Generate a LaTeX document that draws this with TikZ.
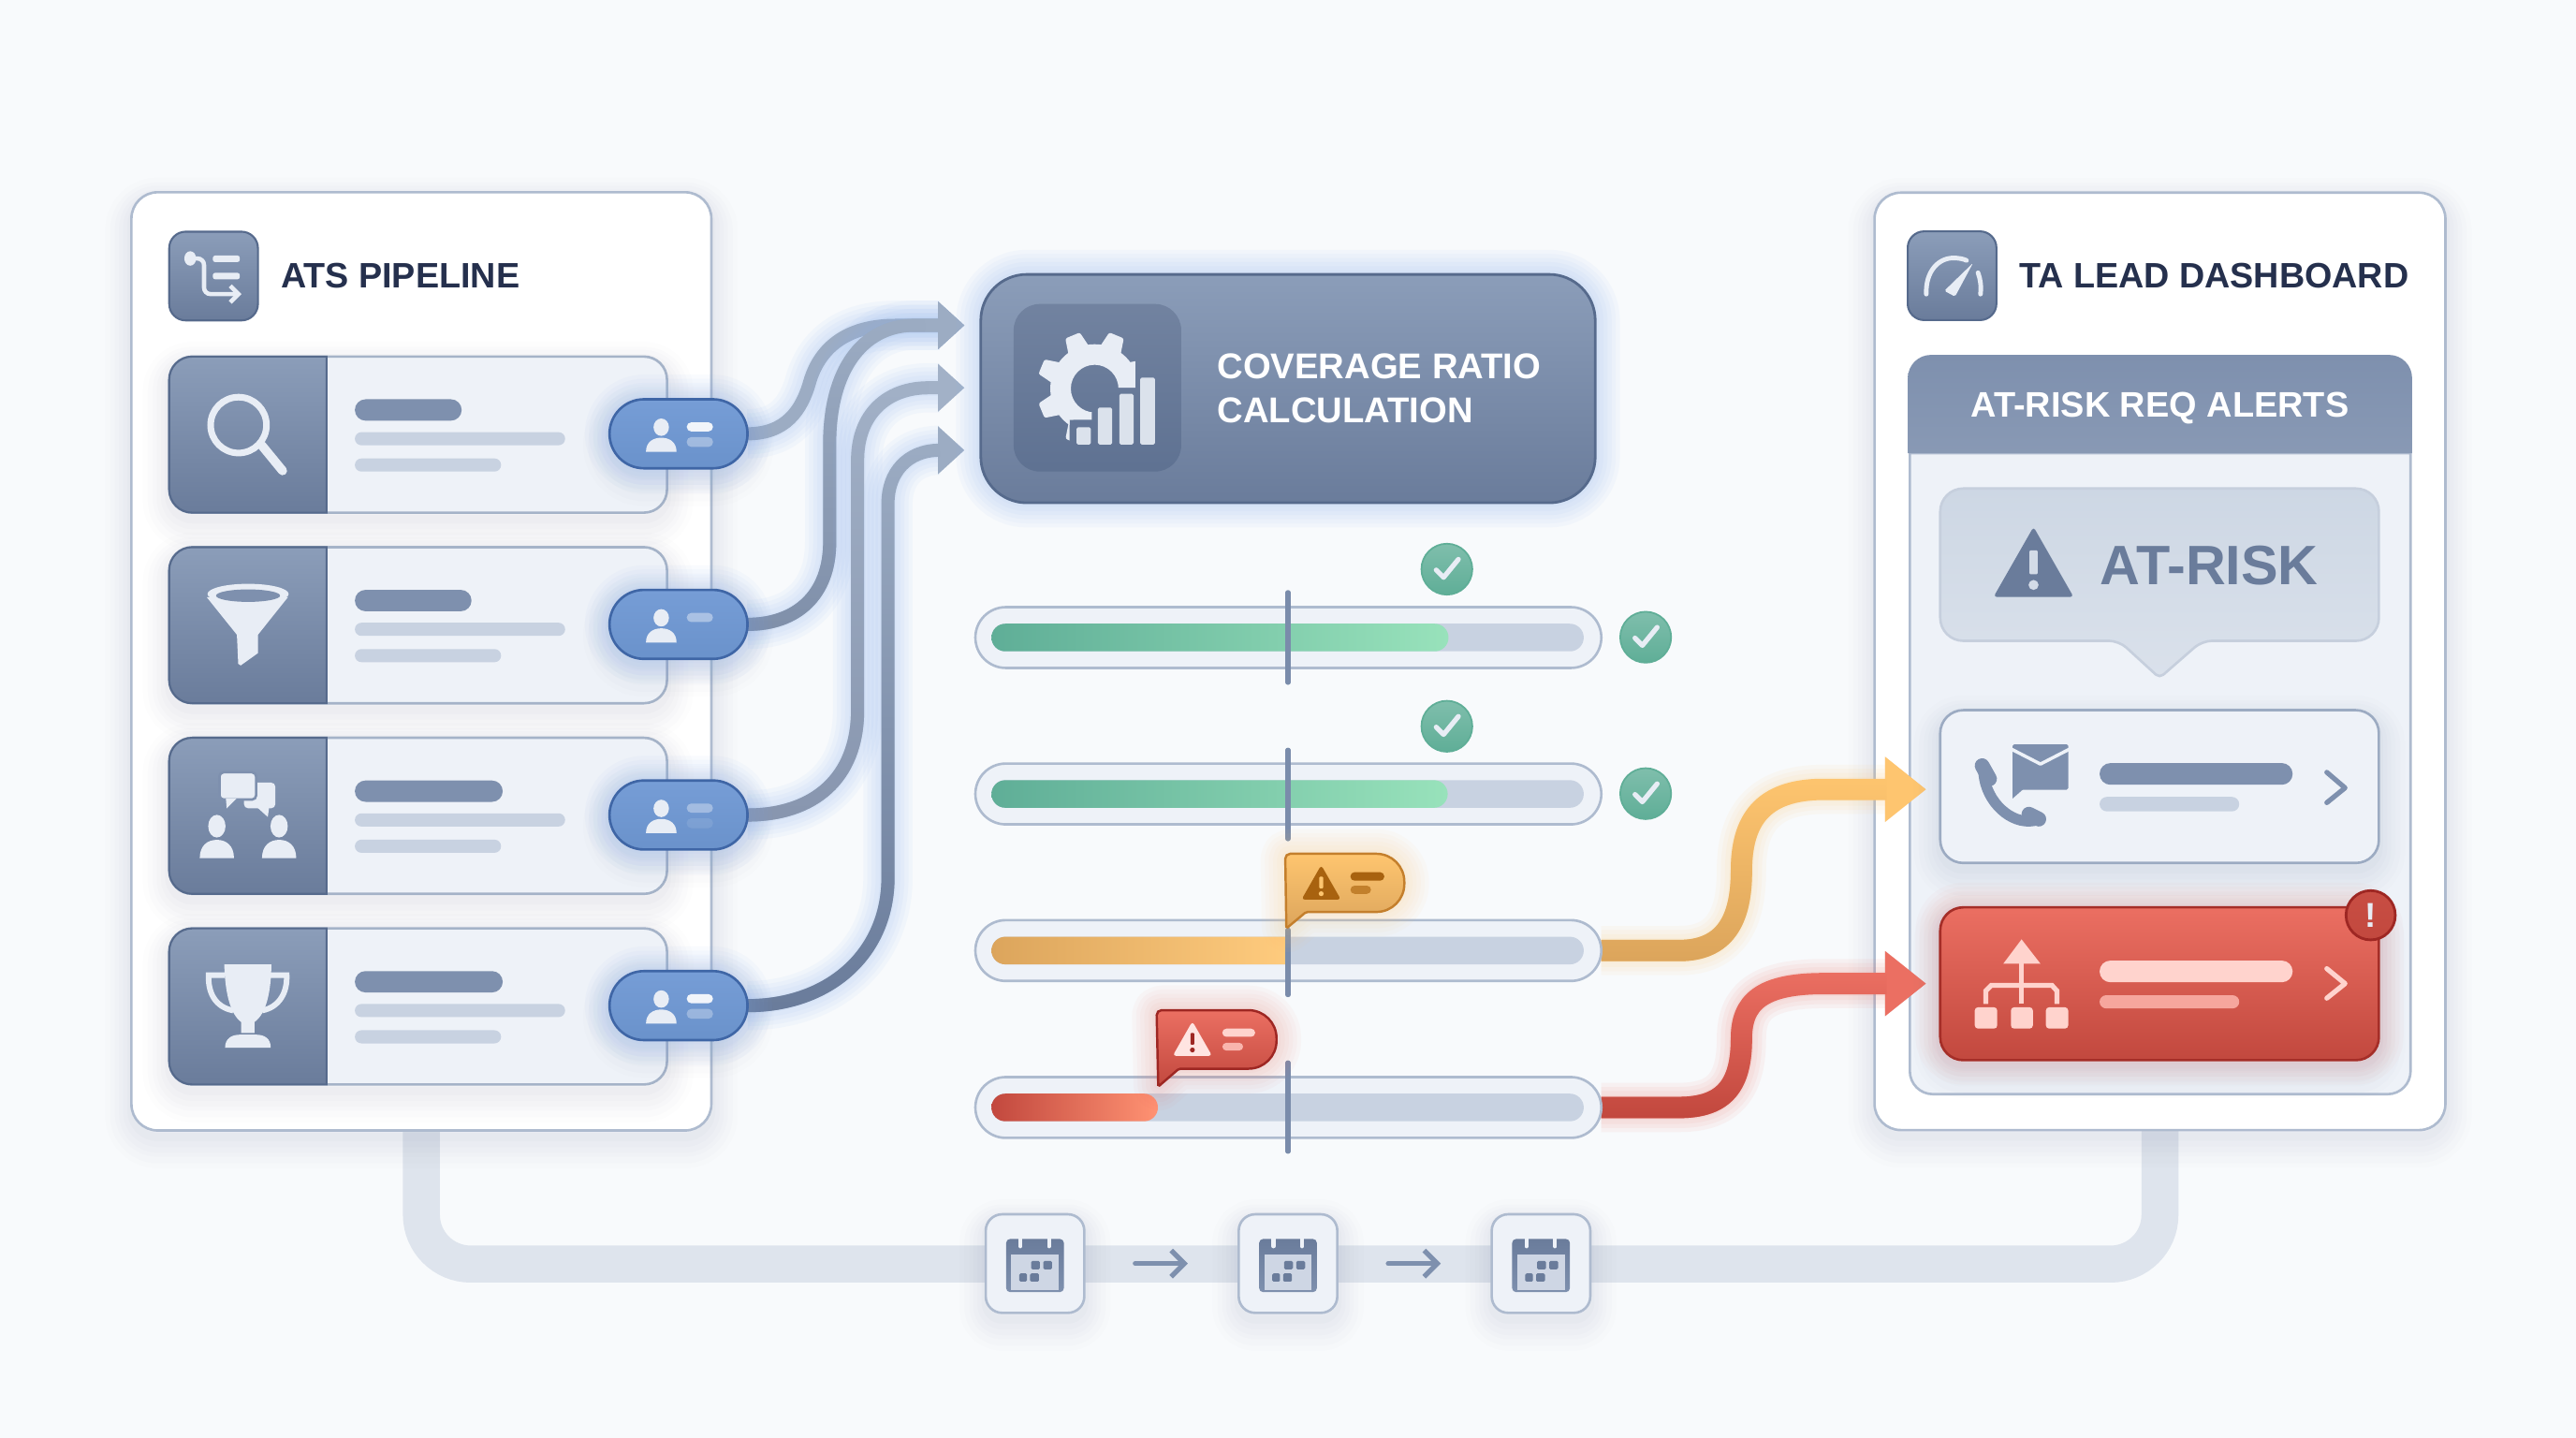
\documentclass[tikz,border=0pt]{standalone}
\usepackage{fontspec}
\setmainfont{Liberation Sans}
\usetikzlibrary{arrows.meta,fadings}

\definecolor{pagetone}{HTML}{F8FAFC}
\definecolor{paneledge}{HTML}{AEBBCF}
\definecolor{inktone}{HTML}{25304D}
\definecolor{slatetop}{HTML}{8B9DB9}
\definecolor{slatelow}{HTML}{6A7C9B}
\definecolor{slateedge}{HTML}{566A8C}
\definecolor{slatebar}{HTML}{7E90AE}
\definecolor{cardtone}{HTML}{EEF2F8}
\definecolor{greybar}{HTML}{C8D2E1}
\definecolor{icontone}{HTML}{E8EDF5}
\definecolor{shadetone}{HTML}{5F7090}
\definecolor{bluehalo}{HTML}{8DB2EE}
\definecolor{pilltop}{HTML}{769DD6}
\definecolor{pilllow}{HTML}{6A92CB}
\definecolor{pilledge}{HTML}{3F66A6}
\definecolor{okdark}{HTML}{5FAE97}
\definecolor{oklight}{HTML}{98E2BB}
\definecolor{ambertop}{HTML}{FEC56F}
\definecolor{amberlow}{HTML}{DCA55C}
\definecolor{amberedge}{HTML}{C47F2C}
\definecolor{amberink}{HTML}{A8620F}
\definecolor{redtop}{HTML}{EB6F62}
\definecolor{redlow}{HTML}{C2483E}
\definecolor{rededge}{HTML}{9E2723}
\definecolor{redpale}{HTML}{FFD3CD}
\definecolor{risktop}{HTML}{CDD7E4}
\definecolor{risklow}{HTML}{DAE1EB}

\pgfdeclarelayer{back}
\pgfdeclarelayer{links}
\pgfdeclarelayer{front}
\pgfsetlayers{back,main,links,front}

\tikzset{
  lift/.style={
    preaction={draw=shadetone,draw opacity=.012,line width=32pt,line join=round,transform canvas={yshift=-7pt}},
    preaction={draw=shadetone,draw opacity=.014,line width=26pt,line join=round,transform canvas={yshift=-7pt}},
    preaction={draw=shadetone,draw opacity=.016,line width=20pt,line join=round,transform canvas={yshift=-6pt}},
    preaction={draw=shadetone,draw opacity=.018,line width=15pt,line join=round,transform canvas={yshift=-6pt}},
    preaction={draw=shadetone,draw opacity=.02,line width=10pt,line join=round,transform canvas={yshift=-5pt}},
    preaction={draw=shadetone,draw opacity=.025,line width=5pt,line join=round,transform canvas={yshift=-4pt}}},
  halo/.style 2 args={
    preaction={draw=#1,draw opacity=#2,line width=30pt,line join=round},
    preaction={draw=#1,draw opacity=#2,line width=25pt,line join=round},
    preaction={draw=#1,draw opacity=#2,line width=20pt,line join=round},
    preaction={draw=#1,draw opacity=#2,line width=15pt,line join=round},
    preaction={draw=#1,draw opacity=#2,line width=10pt,line join=round},
    preaction={draw=#1,draw opacity=#2,line width=5pt,line join=round}},
  panel/.style 2 args={rectangle,minimum width=#1pt,minimum height=#2pt,rounded corners=16pt,fill=white,draw=paneledge,line width=1.5pt,lift},
  tilebox/.style={rectangle,minimum width=54pt,minimum height=54pt,rounded corners=10pt,top color=slatetop,bottom color=slatelow,draw=slateedge,line width=1.2pt},
  heading/.style={anchor=west,text=inktone,font=\fontsize{21.5}{26}\selectfont\bfseries},
  card/.style={rectangle,minimum width=303pt,minimum height=95pt,rounded corners=14pt,fill=cardtone,draw=paneledge!90!slateedge,line width=1.5pt,lift},
  pill/.style={rectangle,minimum width=84pt,minimum height=42pt,rounded corners=21pt,top color=pilltop,bottom color=pilllow,draw=pilledge,line width=1.5pt},
  track/.style={rectangle,minimum width=381pt,minimum height=37pt,rounded corners=18.5pt,fill=cardtone,draw=paneledge,line width=1.5pt},
  tickmark/.style={draw=slatebar!90!slateedge,line width=3pt,line cap=round},
  okbadge/.style={circle,minimum size=31pt,top color=okdark!80!white,bottom color=okdark,draw=okdark,line width=1pt},
  daybox/.style={rectangle,minimum width=60pt,minimum height=60pt,rounded corners=10pt,fill=cardtone,draw=paneledge,line width=1.5pt,lift},
  dayarrow/.style={draw=slatebar,line width=3pt,line cap=round,shorten <=31pt,shorten >=31pt,-{Straight Barb[length=8pt,width=16pt]}},
  timeline/.style={draw=greybar!60!white,line width=22.5pt,rounded corners=30pt},
  chevron/.style={line width=3pt,line cap=round,line join=round},
  alertcard/.style={rectangle,minimum width=267pt,minimum height=93pt,rounded corners=14pt,line width=1.5pt}
}

\newcommand{\personicon}[5]{
  \begin{scope}[shift={(#1,#2)},xscale=#3,yscale=#4]
    \fill[#5] (0,-15) ellipse[x radius=4.7,y radius=5.3];
    \fill[#5] (-9.3,0) .. controls (-9.3,-6) and (-5,-8.6) .. (0,-8.6) .. controls (5,-8.6) and (9.3,-6) .. (9.3,0) -- cycle;
  \end{scope}
}
\newcommand{\pipecard}[3]{
  \node[card] (#1) at (254.5,#2) {};
  \shade[top color=slatetop,bottom color=slatelow,draw=slateedge,line width=1.2pt] (198.8,#2-47.5) [rounded corners=14pt] -- (103,#2-47.5) -- (103,#2+47.5) [sharp corners] -- (198.8,#2+47.5) -- cycle;
  \fill[slatebar,rounded corners=6.5pt] (216,#2-21.5) rectangle (#3,#2-8.5);
  \fill[greybar,rounded corners=4pt] (216,#2-1.5) rectangle (344,#2+6.5);
  \fill[greybar,rounded corners=4pt] (216,#2+14.5) rectangle (305,#2+22.5);
}
\newcommand{\pipepill}[4]{
  \node[pill,lift,halo={bluehalo}{.05}] (#1) at (413,#2) {};
  \personicon{402.5}{#2+11}{1}{1}{icontone}
  \fill[white,opacity=#3,rounded corners=2.8pt] (418,#2-7) rectangle (434,#2-1.4);
  \fill[white,opacity=#4,rounded corners=2.8pt] (418,#2+2) rectangle (434,#2+8);
}
\newcommand{\flowlink}[6]{
  \draw[halo={#3}{.065},draw=#1,line width=#4pt,line join=round,-{Triangle[length=#5pt,width=#6pt]}] #2;
}
\newcommand{\flowfade}[3]{
  \draw[draw=#1,line width=#3pt,path fading=north,shorten >=24pt] #2;
}
\newcommand{\okmark}[3]{
  \node[okbadge] (#1) at (#2,#3) {};
  \draw[icontone,line width=3pt,line cap=round,line join=round] (#2-6.5,#3+0.5) -- (#2-2,#3+5) -- (#2+7,#3-6);
}
\newcommand{\warntri}[5]{
  \begin{scope}[shift={(#1,#2)},scale=#3]
    \fill[#4,rounded corners=2pt] (0,-11) -- (12,10) -- (-12,10) -- cycle;
    \fill[#5,rounded corners=.6pt] (-1.2,-4) rectangle (1.2,3.2);
    \fill[#5] (0,6.4) circle[radius=1.5];
  \end{scope}
}
\newcommand{\calicon}[1]{
  \begin{scope}[shift={(#1)}]
    \shade[top color=slatelow,bottom color=slatebar,rounded corners=2.5pt] (-17.6,-15) rectangle (17.6,17.4);
    \fill[greybar!90!white] (-14.5,-5.4) rectangle (14.5,15.9);
    \draw[cardtone,line width=2.4pt,line cap=round] (-8.9,-17.2) -- (-8.9,-10.5);
    \draw[cardtone,line width=2.4pt,line cap=round] (8.5,-17.2) -- (8.5,-10.5);
    \fill[slatelow,rounded corners=.8pt] (-2.4,-1.6) rectangle (3,3.5);
    \fill[slatelow,rounded corners=.8pt] (5,-1.6) rectangle (10.4,3.5);
    \fill[slatelow,rounded corners=.8pt] (-9.6,6) rectangle (-4.9,11);
    \fill[slatelow,rounded corners=.8pt] (-3,6) rectangle (2.4,11);
  \end{scope}
}

\begin{document}
\begin{tikzpicture}
[x=1pt,y=-1pt,every node/.style={inner sep=0pt,outer sep=0pt}]
\useasboundingbox (0,0) rectangle (1568,875.16);

\begin{pgfonlayer}{back}
\fill[pagetone] (0,0) rectangle (1568,875.16);
\end{pgfonlayer}

\node[panel={353}{571}] (ats) at (256.5,402.5) {};
\node[panel={347.5}{570.5}] (lead) at (1314.75,402.5) {};

\node[tilebox] (atstile) at (130,168) {};
\fill[icontone] (115.8,157.3) ellipse[x radius=3.6,y radius=4.4];
\draw[icontone,line width=2.6pt,rounded corners=4pt,-{Straight Barb[length=5pt,width=10pt]}] (116,157.3) -- (124.2,157.3) -- (124.2,179) -- (147,179);
\fill[icontone,rounded corners=1.5pt] (129.5,155.5) rectangle (146,159.5);
\fill[icontone,rounded corners=1.5pt] (129.5,166) rectangle (146,170);
\node[heading] (atstitle) at (171,168) {ATS PIPELINE};

\pipecard{search}{264.5}{281}
\pipecard{filter}{380.5}{287}
\pipecard{talk}{496.5}{306}
\pipecard{offer}{612.5}{306}

\draw[icontone,line width=4pt] (145.2,258.7) circle[radius=17];
\draw[icontone,line width=5.5pt,line cap=round] (159.3,271) -- (172,286.5);

\fill[icontone] (125.8,363.4) -- (175.3,363.4) -- (157,386.3) -- (157,397.5) -- (146.5,405) -- (145,404) -- (144.2,386.3) -- cycle;
\fill[icontone] (151,361.5) ellipse[x radius=24.7,y radius=6.2];
\fill[slatebar] (151,362.5) ellipse[x radius=19.5,y radius=3.8];

\fill[icontone,rounded corners=2.5pt] (148.5,476.3) rectangle (167.6,491.9);
\fill[icontone] (155,490) -- (163,497.2) -- (164,490) -- cycle;
\draw[slatebar,fill=icontone,line width=1.5pt,rounded corners=2.5pt] (133.6,470) rectangle (155.9,486.6);
\fill[icontone] (137.5,486) -- (138,492) -- (144,486) -- cycle;
\personicon{132}{522.3}{1.12}{1.3}{icontone}
\personicon{169.9}{522.3}{1.12}{1.3}{icontone}

\draw[icontone,line width=3.4pt] (137,593.5) -- (127,593.5) .. controls (126.5,604) and (131,613) .. (142,615);
\draw[icontone,line width=3.4pt] (164.5,593.5) -- (174.5,593.5) .. controls (175,604) and (170,613) .. (159.5,615);
\fill[icontone] (136.5,586.9) -- (165.2,586.9) .. controls (165,604) and (162,617) .. (154.9,622) -- (154.9,628.7) -- (146.8,628.7) -- (146.8,622) .. controls (140,617) and (137,604) .. (136.5,586.9) -- cycle;
\fill[icontone] (137,637.6) .. controls (137,632) and (141,629.7) .. (146,629.7) -- (156,629.7) .. controls (161,629.7) and (164.8,632) .. (164.8,637.6) -- cycle;

\node[tilebox] (leadtile) at (1188.2,167.8) {};
\draw[icontone,line width=2.8pt,line cap=round] (1172.5,179) .. controls (1172,165) and (1180,157) .. (1189,157) .. controls (1192,157) and (1195,157.5) .. (1197,158.5);
\draw[icontone,line width=2.8pt,line cap=round] (1204,166) .. controls (1205.5,170) and (1206,174) .. (1205.5,179);
\fill[icontone,rounded corners=1pt] (1183.5,177) -- (1201,160) -- (1190,180.5) -- cycle;
\node[heading] (leadtitle) at (1229,168) {TA LEAD DASHBOARD};

\draw[fill=cardtone,draw=paneledge,line width=1.5pt] (1162.5,275.8) [rounded corners=14pt] -- (1162.5,665.9) -- (1467.3,665.9) [sharp corners] -- (1467.3,275.8) -- cycle;
\shade[top color=slatebar,bottom color=slatebar!92!white] (1161.3,275.8) [rounded corners=14pt] -- (1161.3,216) -- (1468.2,216) [sharp corners] -- (1468.2,275.8) -- cycle;
\node[text=white,font=\fontsize{21.6}{26}\selectfont\bfseries] (alerthead) at (1314.7,248.5) {AT-RISK REQ ALERTS};

\begin{pgfonlayer}{back}
\draw[timeline] (ats.south) -- (ats.south |- 0,769.3) -- (lead.south |- 0,769.3) -- (lead.south);
\end{pgfonlayer}

\node[daybox] (cal1) at (630,769) {};
\node[daybox] (cal2) at (784,769) {};
\node[daybox] (cal3) at (938,769) {};
\calicon{cal1.center}
\calicon{cal2.center}
\calicon{cal3.center}
\draw[dayarrow] (cal1) -- (cal2);
\draw[dayarrow] (cal2) -- (cal3);

\begin{pgfonlayer}{front}
\pipepill{pill1}{264}{.9}{.35}
\pipepill{pill2}{380}{.4}{0}
\pipepill{pill3}{496}{.35}{.1}
\pipepill{pill4}{612}{.9}{.3}

\node[rectangle,minimum width=374pt,minimum height=139pt,rounded corners=28pt,top color=slatetop,bottom color=slatelow,draw=slateedge,line width=1.6pt,halo={bluehalo}{.06}] (ratio) at (784,236.5) {};
\node[rectangle,minimum width=102pt,minimum height=102pt,rounded corners=16pt,top color=slatelow!95!white,bottom color=slateedge!95!white] (gearbox) at (668,236) {};
\begin{scope}
\clip (617,185) -- (691,185) -- (691,236) -- (664.5,236) -- (664.5,255.5) -- (651,255.5) -- (651,287) -- (617,287) -- cycle;
\fill[icontone,even odd rule] (666.3,236.5) circle[radius=27] (666.3,236.5) circle[radius=14.5];
\foreach \a in {0,45,...,315}
  \fill[icontone,rotate around={\a+22.5:(666.3,236.5)},rounded corners=1.2pt] (659,214) -- (661.5,201.5) -- (671,201.5) -- (673.5,214) -- cycle;
\end{scope}
\fill[icontone!90!slatelow,rounded corners=1pt] (655.3,260) rectangle (664,270.6);
\fill[icontone!90!slatelow,rounded corners=1pt] (668.3,248) rectangle (677,270.6);
\fill[icontone!90!slatelow,rounded corners=1pt] (681.3,239.7) rectangle (690,270.6);
\fill[icontone!90!slatelow,rounded corners=1pt] (694,229.8) rectangle (703,270.6);
\node[anchor=west,align=left,text=white,font=\fontsize{21.8}{27}\selectfont\bfseries] (ratiotext) at (741,236.5) {COVERAGE RATIO\\CALCULATION};

\node[track] (bar1) at (784.2,388) {};
\node[track] (bar2) at (784.2,483.2) {};
\node[track] (bar3) at (784.2,578.5) {};
\node[track] (bar4) at (784.2,674) {};
\fill[greybar,rounded corners=8.4pt] (603.5,379.6) rectangle (964,396.4);
\fill[greybar,rounded corners=8.4pt] (603.5,474.8) rectangle (964,491.6);
\fill[greybar,rounded corners=8.4pt] (603.5,570.1) rectangle (964,586.9);
\fill[greybar,rounded corners=8.4pt] (603.5,665.6) rectangle (964,682.4);
\shade[left color=okdark,right color=oklight,rounded corners=8.4pt] (603.5,379.6) rectangle (881.7,396.4);
\shade[left color=okdark,right color=oklight,rounded corners=8.4pt] (603.5,474.8) rectangle (881.2,491.6);
\shade[left color=amberlow,right color=ambertop!90!white] (782.3,570.1) [rounded corners=8.4pt] -- (603.5,570.1) -- (603.5,586.9) [sharp corners] -- (782.3,586.9) -- cycle;
\shade[left color=redlow,right color=red!55!orange!55!white,rounded corners=8.4pt] (603.5,665.6) rectangle (704.8,682.4);
\draw[tickmark] (784,360.6) -- (784,415.3);
\draw[tickmark] (784,456.5) -- (784,510.5);
\draw[tickmark] (784,566) -- (784,605.4);
\draw[tickmark] (784,646.8) -- (784,700.7);

\okmark{ok1}{880.7}{346.4}
\okmark{ok2}{1001.7}{387.8}
\okmark{ok3}{880.7}{442}
\okmark{ok4}{1001.7}{483}

\draw[halo={ambertop}{.045},top color=ambertop,bottom color=amberlow,draw=amberedge,line width=1.4pt] [rounded corners=3pt] (783,565) -- (782.3,519.6) [rounded corners=17pt] -- (854.8,519.6) -- (854.8,555) [rounded corners=1pt] -- (795,555) -- cycle;
\warntri{804.2}{537.5}{1}{amberink}{ambertop}
\fill[amberink,rounded corners=2.5pt] (822,530.8) rectangle (842.6,536);
\fill[amberink!70!ambertop,rounded corners=2.5pt] (822,539) rectangle (834.5,544);

\draw[halo={redtop}{.04},top color=redtop,bottom color=redlow,draw=rededge,line width=1.4pt] [rounded corners=3pt] (705,661.3) -- (704,614.8) [rounded corners=17pt] -- (777,614.8) -- (777,650.4) [rounded corners=1pt] -- (717.6,650.4) -- cycle;
\warntri{725.8}{632.6}{1}{redpale!60!white}{rededge}
\fill[redpale,rounded corners=2.5pt] (744,626) rectangle (764,631);
\fill[redpale!70!redtop,rounded corners=2.5pt] (744,634.6) rectangle (756.7,639.4);

\draw[top color=risktop,bottom color=risklow,draw=paneledge!70!white,line width=1.5pt] [rounded corners=14pt] (1181,297.3) -- (1448,297.3) -- (1448,390) [rounded corners=6pt] -- (1340.4,390) [rounded corners=3pt] -- (1314.5,412.6) [rounded corners=6pt] -- (1289.8,390) [rounded corners=14pt] -- (1181,390) -- cycle;
\warntri{1237.8}{343}{2.03}{slatelow}{greybar!80!white}
\node[anchor=west,text=slatelow,font=\fontsize{33.8}{40}\selectfont\bfseries] (atrisk) at (1278.5,344) {AT-RISK};

\node[alertcard,fill=cardtone,draw=paneledge!80!slateedge,lift] (callcard) at (1314.5,478.7) {};
\draw[slatebar,line width=6.5pt,line cap=round] (1207.5,471) .. controls (1209,488) and (1224,502) .. (1238,499.5);
\draw[slatebar,line width=9pt,line cap=round] (1206.5,466) -- (1211,474);
\draw[slatebar,line width=9pt,line cap=round] (1235,495.5) -- (1241,498.5);
\fill[slatebar,rounded corners=1pt] (1225,453) rectangle (1259,480.6);
\fill[slatebar] (1225,479) -- (1225,486) -- (1233,479) -- cycle;
\draw[cardtone,line width=2pt,line join=round] (1224.5,456) -- (1242,465) -- (1259.5,456);
\fill[slatebar,rounded corners=6.6pt] (1278,464.4) rectangle (1395.5,477.6);
\fill[greybar,rounded corners=4.4pt] (1278,485) rectangle (1363,493.8);
\draw[slatebar,chevron] (1416.3,470) -- (1427.4,479.5) -- (1416.3,488.5);

\node[alertcard,top color=redtop,bottom color=redlow,draw=rededge!80!redlow,lift,halo={redtop}{.03}] (urgentcard) at (1314.5,598.7) {};
\fill[redpale,rounded corners=2pt] (1202,613) rectangle (1215.7,626);
\fill[redpale,rounded corners=2pt] (1224,613) rectangle (1237.4,626);
\fill[redpale,rounded corners=2pt] (1245.3,613) rectangle (1258.9,626);
\draw[redpale,line width=3pt] (1208.8,611) -- (1208.8,603) -- (1212,599.7) -- (1249,599.7) -- (1252,603) -- (1252,611);
\draw[redpale,line width=3pt] (1230.5,584) -- (1230.5,611);
\fill[redpale] (1230.5,571.7) -- (1242,586.5) -- (1219.4,586.5) -- cycle;
\fill[redpale,rounded corners=6.6pt] (1278,584.6) rectangle (1395.5,597.8);
\fill[redpale!55!redtop,rounded corners=4pt] (1278,605.7) rectangle (1363,613.7);
\draw[redpale,chevron] (1416.3,589.5) -- (1427.4,598.6) -- (1416.3,607.5);
\node[circle,minimum size=30pt,top color=redlow!85!redtop,bottom color=redlow,draw=rededge,line width=1.6pt,text=icontone,font=\fontsize{21}{24}\selectfont\bfseries] (urgentmark) at (1443,557) {!};
\end{pgfonlayer}

\coordinate (tip1) at (587,198);
\coordinate (tip2) at (587,236);
\coordinate (tip3) at (587,274);
\coordinate (tip4) at (1172.4,480.4);
\coordinate (tip5) at (1172.4,598.6);

\begin{pgfonlayer}{links}
\flowlink{slatetop!85!white}{(pill1.east) .. controls (478,264) and (488,250) .. (493,232) .. controls (499,212) and (515,198) .. (545,198) -- (tip1)}{bluehalo}{8}{16}{28}
\flowlink{slatetop!85!white}{(pill2.east) .. controls (485,380) and (505,362) .. (505,330) -- (505,270) .. controls (505,225) and (525,199) .. (555,198) -- (tip1)}{bluehalo}{8}{16}{28}
\flowfade{slatelow!85!white}{(pill2.east) .. controls (485,380) and (505,362) .. (505,330) -- (505,270) .. controls (505,225) and (525,199) .. (555,198) -- (tip1)}{8}
\flowlink{slatetop!80!white}{(pill3.east) .. controls (495,496) and (522,474) .. (522,432) -- (522,280) .. controls (522,252) and (540,236) .. (565,236) -- (tip2)}{bluehalo}{8}{16}{28}
\flowfade{slatelow!80!white}{(pill3.east) .. controls (495,496) and (522,474) .. (522,432) -- (522,280) .. controls (522,252) and (540,236) .. (565,236) -- (tip2)}{8}
\flowlink{slatetop!85!white}{(pill4.east) .. controls (505,612) and (540.5,580) .. (540.5,534) -- (540.5,306) .. controls (540.5,288) and (552,274) .. (572,274) -- (tip3)}{bluehalo}{8}{16}{28}
\flowfade{slatelow}{(pill4.east) .. controls (505,612) and (540.5,580) .. (540.5,534) -- (540.5,306) .. controls (540.5,288) and (552,274) .. (572,274) -- (tip3)}{8}
\flowlink{ambertop}{(bar3.east) -- (1022,578.5) .. controls (1050,578.5) and (1060,560) .. (1060,530) .. controls (1060,500) and (1072,480.4) .. (1110,480.4) -- (tip4)}{ambertop}{13}{25}{38}
\flowfade{amberlow}{(bar3.east) -- (1022,578.5) .. controls (1050,578.5) and (1060,560) .. (1060,530) .. controls (1060,500) and (1072,480.4) .. (1110,480.4) -- (tip4)}{13}
\flowlink{redtop}{(bar4.east) -- (1022,674) .. controls (1050,674) and (1060,660) .. (1060,632) .. controls (1060,610) and (1072,598.6) .. (1110,598.6) -- (tip5)}{redtop}{13}{25}{38}
\flowfade{redlow}{(bar4.east) -- (1022,674) .. controls (1050,674) and (1060,660) .. (1060,632) .. controls (1060,610) and (1072,598.6) .. (1110,598.6) -- (tip5)}{13}
\end{pgfonlayer}
\end{tikzpicture}
\end{document}
